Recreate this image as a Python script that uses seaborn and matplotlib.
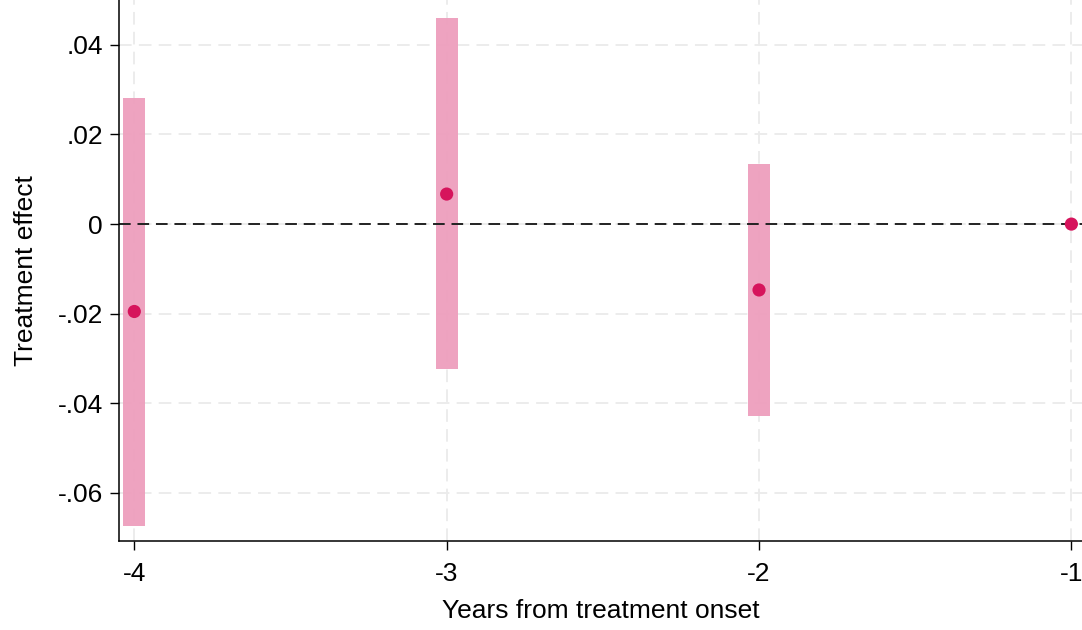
import matplotlib
matplotlib.use("Agg")
import matplotlib.pyplot as plt
import seaborn as sns
import pandas as pd

years = [-4, -3, -2, -1]
estimates = [-0.0195, 0.0067, -0.0147, 0.0]
ci_low = [-0.0673, -0.0323, -0.0428, 0.0]
ci_high = [0.0281, 0.0460, 0.0134, 0.0]
xtick_vals = [-4, -3, -2, -1]
xtick_labels = ["-4", "-3", "-2", "-1"]
ytick_vals = [-0.06, -0.04, -0.02, 0.0, 0.02, 0.04]
ytick_labels = ["-.06", "-.04", "-.02", "0", ".02", ".04"]

df = pd.DataFrame({"year": years, "est": estimates, "lo": ci_low, "hi": ci_high})

sns.set_theme(style="white")
plt.rcParams["font.family"] = ["Liberation Sans", "DejaVu Sans"]

fig = plt.figure(figsize=(10.82, 6.3), dpi=100)
ax = fig.add_axes([119 / 1082, 1 - 540.5 / 630, 1 - 119 / 1082, 540.5 / 630])

# grid
for yv in ytick_vals:
    ax.axhline(yv, color="#ebebeb", lw=1.3, ls=(0, (7, 4)), zorder=0)
for xv in xtick_vals:
    ax.axvline(xv, color="#ebebeb", lw=1.3, ls=(0, (7, 4)), zorder=0)

# CI bars
ci = df[df["hi"] != df["lo"]]
ax.bar(ci["year"], ci["hi"] - ci["lo"], bottom=ci["lo"], width=0.07,
       color="#ee9ebd", alpha=0.95, linewidth=0, zorder=1)

ax.axhline(0, color="#222222", lw=1.4, ls=(0, (6, 3.5)), zorder=2)

sns.scatterplot(data=df, x="year", y="est", ax=ax, color="#d6145c",
                s=90, edgecolor="none", zorder=3)

ax.set_xlim(-4.049, -0.966)
ax.set_ylim(-0.0706, 0.05)
ax.set_xticks(xtick_vals)
ax.set_xticklabels(xtick_labels)
ax.set_yticks(ytick_vals)
ax.set_yticklabels(ytick_labels)
ax.tick_params(axis="both", which="major", labelsize=19, length=6.5, width=1,
               color="black", labelcolor="black", direction="out",
               bottom=True, left=True)
ax.tick_params(axis="x", pad=9)
ax.tick_params(axis="y", pad=5)
for side in ["top", "right"]:
    ax.spines[side].set_visible(False)
for side in ["left", "bottom"]:
    ax.spines[side].set_color("black")
    ax.spines[side].set_linewidth(1.1)

ax.set_xlabel("Years from treatment onset", fontsize=19, color="black", labelpad=9)
ax.set_ylabel("Treatment effect", fontsize=19, color="black", labelpad=14)

fig.savefig("out.png", dpi=100)
